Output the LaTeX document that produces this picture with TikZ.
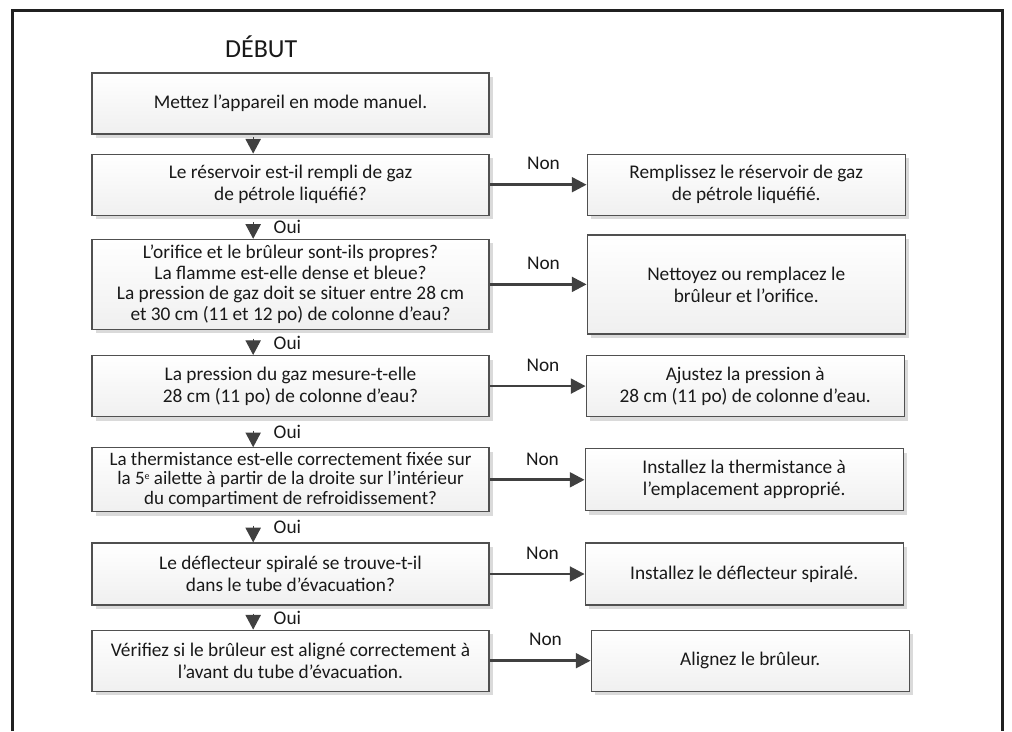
\documentclass[tikz,border=0pt]{standalone}
\usepackage{fontspec}
\setmainfont{Carlito}
\usetikzlibrary{positioning, arrows.meta, shadows}
\definecolor{inkdark}{RGB}{64,64,64}
\definecolor{boxline}{RGB}{80,80,80}
\definecolor{shadowgray}{RGB}{218,218,218}
\definecolor{framedark}{RGB}{32,32,32}
\newcommand{\ordsup}[1]{\raisebox{0.55ex}{\fontsize{7.5}{7.5}\selectfont #1}}

\begin{document}
\begin{tikzpicture}[
  x=0.75pt, y=-0.75pt,
  stepbox/.style={
    draw=boxline, line width=0.9pt, top color=white, bottom color=black!6,
    drop shadow={shadow xshift=3pt, shadow yshift=-3pt, fill=shadowgray, opacity=1},
    minimum width=297.75pt, minimum height=45.75pt, align=center,
    inner sep=1pt, text=black!90, font=\fontsize{14.5}{16.5}\selectfont
  },
  fixbox/.style={stepbox, minimum width=238.5pt},
  yes/.style={-{Triangle[length=11pt, width=11.5pt]}, inkdark, line width=0.8pt},
  no/.style={-{Triangle[length=11pt, width=11pt]}, inkdark, line width=2pt},
  lbl/.style={font=\fontsize{14.5}{17}\selectfont, text=black!90, inner sep=1pt},
  frame/.style={framedark, line width=2.25pt}
]
  \useasboundingbox (0,0) rectangle (1012,731);
  \draw[frame] (12,731) -- (12,11) -- (1002,11) -- (1002,731);

  % questions
  \node[stepbox] (q1) at (290.5,103.5) {Mettez l’appareil en mode manuel.};
  \node[stepbox, below=14.25pt of q1] (q2) {Le réservoir est-il rempli de gaz\\de pétrole liquéfié?};
  \node[stepbox, below=17.25pt of q2, minimum height=67.5pt, font=\fontsize{14.5}{15.5}\selectfont] (q3)
    {L’orifice et le brûleur sont-ils propres?\\La flamme est-elle dense et bleue?\\La pression de gaz doit se situer entre 28 cm\\et 30 cm (11 et 12 po) de colonne d’eau?};
  \node[stepbox, below=18.75pt of q3] (q4) {La pression du gaz mesure-t-elle\\28 cm (11 po) de colonne d’eau?};
  \node[stepbox, below=22.5pt of q4, minimum height=48pt, font=\fontsize{14.25}{14.75}\selectfont] (q5)
    {La thermistance est-elle correctement fixée sur\\la 5\ordsup{e} ailette à partir de la droite sur l’intérieur\\du compartiment de refroidissement?};
  \node[stepbox, below=22.5pt of q5, minimum height=46.5pt] (q6) {Le déflecteur spiralé se trouve-t-il\\dans le tube d’évacuation?};
  \node[stepbox, below=18pt of q6] (q7) {Vérifiez si le brûleur est aligné correctement à\\l’avant du tube d’évacuation.};

  \node[lbl, font=\fontsize{19.5}{22}\selectfont, above=10pt of q1, xshift=-22pt] (start) {DÉBUT};

  % fixes
  \node[fixbox, right=72.75pt of q2] (r2) {Remplissez le réservoir de gaz\\de pétrole liquéfié.};
  \node[fixbox, right=72.75pt of q3, minimum height=74.25pt] (r3) {Nettoyez ou remplacez le\\brûleur et l’orifice.};
  \node[fixbox, right=72pt of q4] (r4) {Ajustez la pression à\\28 cm (11 po) de colonne d’eau.};
  \node[fixbox, right=71.25pt of q5, minimum height=46.5pt] (r5) {Installez la thermistance à\\l’emplacement approprié.};
  \node[fixbox, right=71.25pt of q6, minimum height=46.5pt] (r6) {Installez le déflecteur spiralé.};
  \node[fixbox, right=75.75pt of q7] (r7) {Alignez le brûleur.};

  % oui
  \draw[yes, shorten <=2pt] ([xshift=-28pt]q1.south) -- ([xshift=-28pt]q2.north);
  \foreach \a/\b/\s in {q2/q3/5pt, q3/q4/6.5pt, q4/q5/10pt, q5/q6/10pt, q6/q7/6pt}
    \draw[yes, shorten <=\s] ([xshift=-28pt]\a.south) -- node[lbl, right=14pt] (oui-\b) {Oui} ([xshift=-28pt]\b.north);

  % non
  \foreach \i in {2,...,7}
    \draw[no] (q\i) -- node[lbl, above=9pt, xshift=4pt] (non-\i) {Non} (r\i);
\end{tikzpicture}
\end{document}
